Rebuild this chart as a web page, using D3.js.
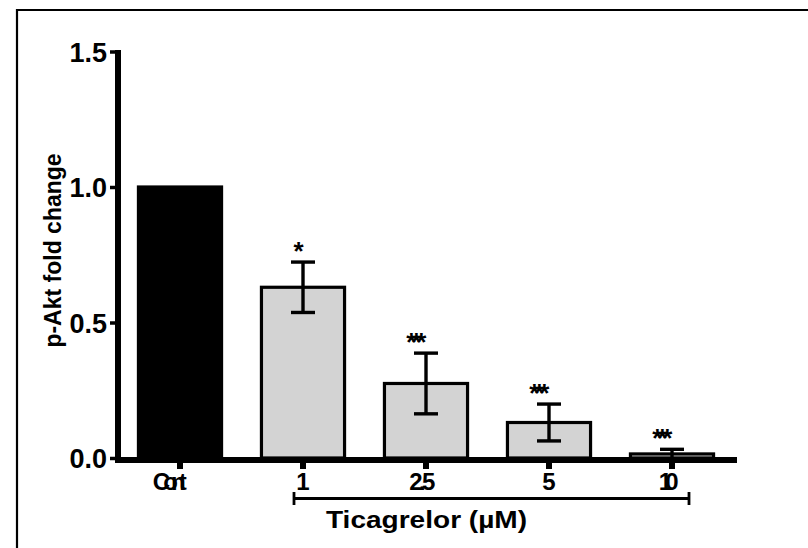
<!DOCTYPE html>
<html>
<head>
<meta charset="utf-8">
<script src="https://cdn.jsdelivr.net/npm/d3@7"></script>
<style>
  html, body { margin: 0; padding: 0; background: #fff; }
  svg { display: block; }
  text { font-family: "Liberation Sans", Arial, sans-serif; font-weight: bold; fill: #000; }
</style>
</head>
<body>
<svg id="chart" width="808" height="548"></svg>
<script>
// ---- data ----
const categories = ["Cont", "1", "2.5", "5", "10"];
const means = [1.0, 0.63, 0.275, 0.131, 0.015];
const sems = [0, 0.093, 0.112, 0.068, 0.017];
const significance = ["", "*", "***", "***", "***"];
const yTickValues = [0, 0.5, 1.0, 1.5];
const yTickLabels = ["0.0", "0.5", "1.0", "1.5"];
const yAxisTitle = "p-Akt fold change";
const groupTitle = "Ticagrelor (µM)";
const groupFrom = "1", groupTo = "10", groupCenter = "2.5";

// ---- layout ----
const svg = d3.select("#chart");
const W = 808, H = 548;

// frame (left and top border only visible)
svg.append("path")
  .attr("d", `M17,${H} L17,10 L${W},10`)
  .attr("fill", "none").attr("stroke", "#000").attr("stroke-width", 2.2);

const y = d3.scaleLinear().domain([0, 1.5]).range([458, 51.5]);
const x = d3.scaleBand().domain(categories).range([118.5, 733.5])
  .paddingInner(0.3).paddingOuter(0.15);
const cx = c => x(c) + x.bandwidth() / 2;

const data = categories.map((c, i) => ({ c, m: means[i], s: sems[i], sig: significance[i], i }));

// bars
svg.append("g").selectAll("rect").data(data).join("rect")
  .attr("x", d => x(d.c) + 1.5)
  .attr("width", x.bandwidth() - 3)
  .attr("y", d => y(d.m))
  .attr("height", d => y(0) - y(d.m))
  .attr("fill", d => d.i === 0 ? "#000" : "#d3d3d3")
  .attr("stroke", "#000").attr("stroke-width", 3.2);

// error bars
const eb = svg.append("g").attr("stroke", "#000").attr("stroke-width", 3.4).attr("fill", "none");
data.filter(d => d.s > 0).forEach(d => {
  const xc = cx(d.c);
  eb.append("line").attr("x1", xc).attr("x2", xc).attr("y1", y(d.m + d.s)).attr("y2", y(Math.max(0, d.m - d.s)));
  eb.append("line").attr("x1", xc - 12).attr("x2", xc + 12).attr("y1", y(d.m + d.s)).attr("y2", y(d.m + d.s));
  if (d.m - d.s > 0.02)
    eb.append("line").attr("x1", xc - 12).attr("x2", xc + 12).attr("y1", y(d.m - d.s)).attr("y2", y(d.m - d.s));
});

// helper: compress text by spacing (glyphs overlap like in the reference)
function fitText(sel, width, adjust) {
  sel.each(function() {
    const nat = this.getComputedTextLength();
    if (width && width < nat) {
      const cxv = +this.getAttribute("x");
      this.setAttribute("text-anchor", "start");
      this.setAttribute("x", cxv - nat / 2);
      this.setAttribute("textLength", width);
      this.setAttribute("lengthAdjust", adjust || "spacing");
    }
  });
}

// significance stars
const starFit = { "***": 20 };
svg.append("g").selectAll("text").data(data.filter(d => d.sig)).join("text")
  .attr("x", d => cx(d.c) - 4.5)
  .attr("y", d => y(d.m + d.s) - 2.5)
  .attr("text-anchor", "middle")
  .style("font-size", "26px")
  .text(d => d.sig)
  .call(sel => sel.each(function(d) { fitText(d3.select(this), starFit[d.sig]); }));

// y axis
const yAxis = d3.axisLeft(y).tickValues(yTickValues)
  .tickFormat((d, i) => yTickLabels[i]).tickSize(8).tickPadding(3);
const gy = svg.append("g").attr("transform", "translate(118,0)").call(yAxis);
gy.select(".domain").remove();
gy.selectAll(".tick line").attr("stroke", "#000").attr("stroke-width", 3.5);
gy.selectAll(".tick text").style("font-size", "27px").attr("dy", "0.36em")
  .attr("font-family", null);
svg.append("line").attr("x1", 118).attr("x2", 118).attr("y1", y(1.5) - 1.5).attr("y2", 463)
  .attr("stroke", "#000").attr("stroke-width", 6);

// x axis
const xAxis = d3.axisBottom(x).tickSize(9).tickPadding(20);
const gx = svg.append("g").attr("transform", `translate(0,${y(0) + 2})`).call(xAxis);
gx.select(".domain").remove();
gx.selectAll(".tick line").attr("stroke", "#000").attr("stroke-width", 6);
const labelFit = { "Cont": 34, "2.5": 26, "10": 20 };
gx.selectAll(".tick text").style("font-size", "24px").attr("dy", null).attr("y", 30)
  .attr("font-family", null)
  .each(function(d) {
    const t = d3.select(this);
    const nat = this.getComputedTextLength();
    const w = labelFit[d];
    if (w) {
      t.attr("text-anchor", "start").attr("x", -nat / 2)
        .attr("textLength", w).attr("lengthAdjust", "spacing");
    }
  });
svg.append("line").attr("x1", 115).attr("x2", 737).attr("y1", y(0) + 2).attr("y2", y(0) + 2)
  .attr("stroke", "#000").attr("stroke-width", 6);

// group bracket
const bx1 = cx(groupFrom) - 10, bx2 = cx(groupTo) + 18, by = 498.5;
const br = svg.append("g").attr("stroke", "#000").attr("stroke-width", 2.8);
br.append("line").attr("x1", bx1).attr("x2", bx2).attr("y1", by).attr("y2", by);
br.append("line").attr("x1", bx1 + 1).attr("x2", bx1 + 1).attr("y1", by - 6.5).attr("y2", by + 6.5);
br.append("line").attr("x1", bx2 - 1).attr("x2", bx2 - 1).attr("y1", by - 6.5).attr("y2", by + 6.5);

svg.append("text")
  .attr("x", cx(groupCenter) - 100).attr("y", 528)
  .attr("textLength", 201).attr("lengthAdjust", "spacingAndGlyphs")
  .style("font-size", "24px")
  .text(groupTitle);

// y title
svg.append("text")
  .attr("transform", "translate(61,250.5) rotate(-90)")
  .attr("text-anchor", "middle")
  .style("font-size", "23px")
  .text(yAxisTitle);
</script>
</body>
</html>
